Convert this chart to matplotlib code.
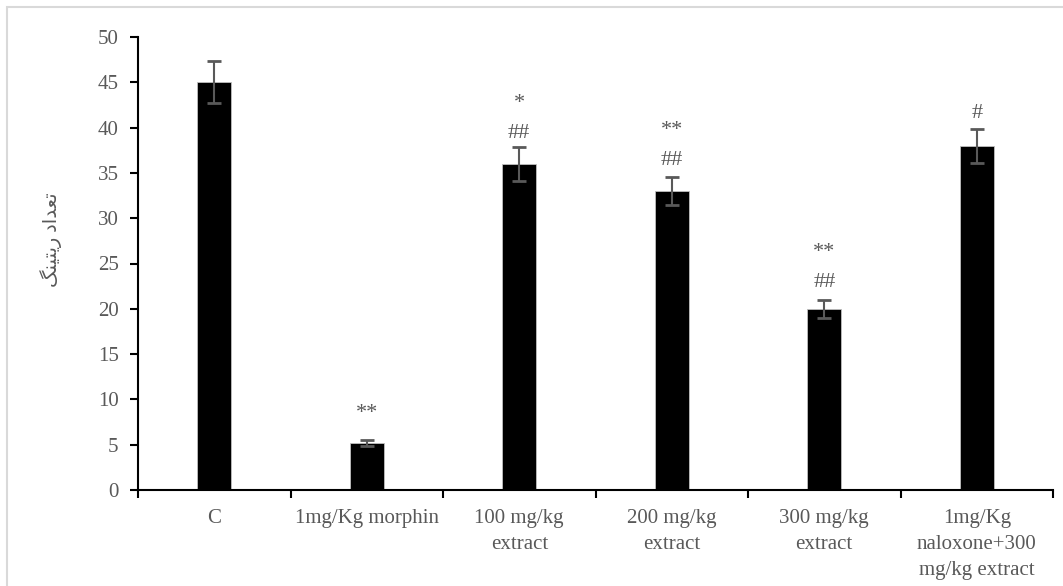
import matplotlib
matplotlib.use('Agg')
import matplotlib.pyplot as plt
from matplotlib.patches import Rectangle

# data
groups = ['C', '1mg/Kg morphin', '100 mg/kg\nextract', '200 mg/kg\nextract',
          '300 mg/kg\nextract', '1mg/Kg\nnaloxone+300\nmg/kg extract']
means = [45, 5.2, 36, 33, 20, 38]
errors = [2.3, 0.3, 1.9, 1.5, 1.0, 1.9]
# significance marks and their heights
star_marks = ['', '**', '*', '**', '**', '']
star_y = [0, 8.4, 42.7, 39.7, 26.2, 0]
hash_marks = ['', '', '##', '##', '##', '#']
hash_y = [0, 0, 39.4, 36.4, 22.9, 41.6]

# y label (Persian, pre-shaped glyphs in visual order)
ylabel = '\uFB93\uFEE8\uFBFF\uFE98\uFBFE\uFEAD \uFEA9\uFE8D\uFEAA\uFECC\uFE97'

gray = '#595959'
plt.rcParams['font.family'] = ['Liberation Serif', 'DejaVu Sans']

fig = plt.figure(figsize=(10.63, 5.86), dpi=100)
fig.patches.append(Rectangle((7 / 1063, -0.1), 1.2, 1.1 - 7 / 586,
                             transform=fig.transFigure, fill=False,
                             edgecolor='#d9d9d9', linewidth=1.5))
ax = fig.add_axes([138 / 1063, 96 / 586, 915 / 1063, 453 / 586])

x = list(range(len(groups)))
ax.bar(x, means, width=0.22, color='black', edgecolor='#bfbfbf', linewidth=0.6, zorder=2)
ax.errorbar(x, means, yerr=errors, fmt='none', ecolor=gray, elinewidth=1.5,
            capsize=5, capthick=2, zorder=3)

for i in x:
    if star_marks[i]:
        ax.text(i, star_y[i], star_marks[i], ha='center', va='center', fontsize=16, color=gray)
    if hash_marks[i]:
        ax.text(i, hash_y[i], hash_marks[i], ha='center', va='center', fontsize=16, color=gray)

ax.set_xlim(-0.5, len(groups) - 0.5)
ax.set_ylim(0, 50)
ax.set_yticks(range(0, 51, 5))
ax.set_xticks([i - 0.5 for i in range(len(groups) + 1)])
ax.set_xticklabels([])
ax.set_xticks(x, minor=True)
ax.set_xticklabels(groups, minor=True, linespacing=1.5)
ax.tick_params(axis='x', which='minor', length=0, pad=14, labelsize=15, labelcolor=gray)
ax.tick_params(axis='x', which='major', length=6, width=1.5, direction='out')
ax.tick_params(axis='y', length=6, width=1.5, direction='out', labelsize=15,
               labelcolor=gray, pad=8)

for s in ['top', 'right']:
    ax.spines[s].set_visible(False)
for s in ['left', 'bottom']:
    ax.spines[s].set_linewidth(1.5)

ax.set_ylabel(ylabel, fontsize=14, color=gray)
ax.yaxis.set_label_coords(-0.083, 0.552)

fig.savefig('out.png', dpi=100)
